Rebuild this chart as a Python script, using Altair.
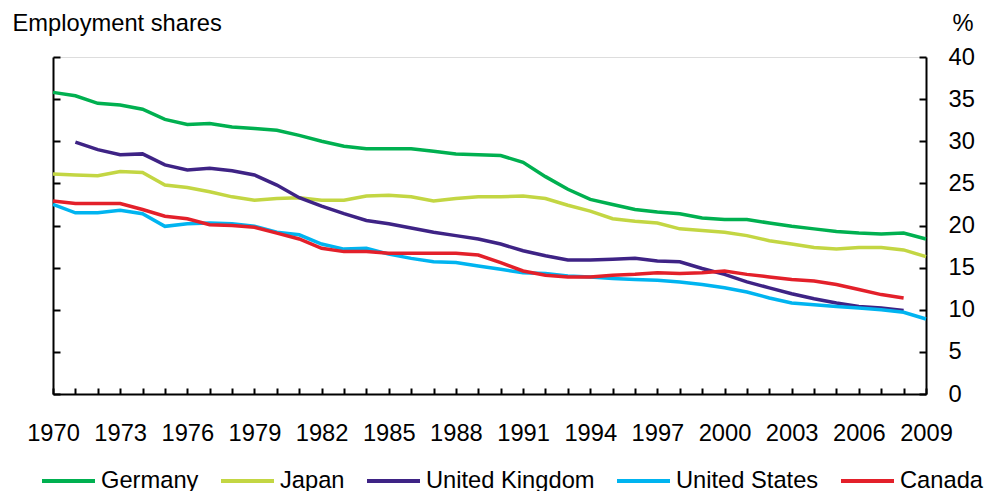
import altair as alt
import pandas as pd

years = list(range(1970, 2010))
label_years = list(range(1970, 2010, 3))
y_ticks = [0, 5, 10, 15, 20, 25, 30, 35, 40]

countries = ["Germany", "Japan", "United Kingdom", "United States", "Canada"]
colors = ["#00B050", "#C3D643", "#3E2385", "#00B4F0", "#E3202A"]

germany = [35.8, 35.4, 34.5, 34.3, 33.8, 32.6, 32.0, 32.1, 31.7, 31.5,
           31.3, 30.7, 30.0, 29.4, 29.1, 29.1, 29.1, 28.8, 28.5, 28.4,
           28.3, 27.5, 25.8, 24.3, 23.1, 22.5, 21.9, 21.6, 21.4, 20.9,
           20.7, 20.7, 20.3, 19.9, 19.6, 19.3, 19.1, 19.0, 19.1, 18.4]
japan = [26.1, 26.0, 25.9, 26.4, 26.3, 24.8, 24.5, 24.0, 23.4, 23.0,
         23.2, 23.3, 23.0, 23.0, 23.5, 23.6, 23.4, 22.9, 23.2, 23.4,
         23.4, 23.5, 23.2, 22.4, 21.7, 20.8, 20.5, 20.3, 19.6, 19.4,
         19.2, 18.8, 18.2, 17.8, 17.4, 17.2, 17.4, 17.4, 17.1, 16.3]
uk = [None, 29.9, 29.0, 28.4, 28.5, 27.2, 26.6, 26.8, 26.5, 26.0,
      24.8, 23.3, 22.3, 21.4, 20.6, 20.2, 19.7, 19.2, 18.8, 18.4,
      17.8, 17.0, 16.4, 15.9, 15.9, 16.0, 16.1, 15.8, 15.7, 14.9,
      14.2, 13.3, 12.6, 11.9, 11.3, 10.8, 10.4, 10.2, 9.9, None]
us = [22.5, 21.5, 21.5, 21.8, 21.4, 19.9, 20.2, 20.3, 20.2, 19.9,
      19.2, 18.9, 17.8, 17.2, 17.3, 16.6, 16.1, 15.7, 15.6, 15.2,
      14.8, 14.4, 14.3, 14.0, 13.9, 13.7, 13.6, 13.5, 13.3, 13.0,
      12.6, 12.1, 11.4, 10.8, 10.6, 10.4, 10.2, 10.0, 9.7, 8.9]
canada = [22.9, 22.6, 22.6, 22.6, 21.9, 21.1, 20.8, 20.1, 20.0, 19.8,
          19.1, 18.4, 17.3, 16.9, 16.9, 16.7, 16.7, 16.7, 16.7, 16.5,
          15.6, 14.6, 14.1, 13.9, 13.9, 14.1, 14.2, 14.4, 14.3, 14.4,
          14.6, 14.2, 13.9, 13.6, 13.4, 13.0, 12.4, 11.8, 11.4, None]

series = dict(zip(countries, [germany, japan, uk, us, canada]))
rows = []
for c in countries:
    for yr, v in zip(years, series[c]):
        if v is not None:
            rows.append({"year": yr, "value": v, "country": c})
df = pd.DataFrame(rows)

FONT = "Liberation Sans"
FS = 23.7
W, H = 873, 337

xscale = alt.Scale(domain=[1970, 2009], nice=False, zero=False)
yscale = alt.Scale(domain=[0, 40], nice=False, zero=True)

x_bottom = alt.Axis(orient="bottom", values=label_years, format="d", ticks=False, tickSize=0,
                    labelPadding=27, labelFontSize=FS, labelFont=FONT, labelColor="black",
                    labelFlush=False, labelOverlap=False, domain=True, domainColor="black",
                    domainWidth=2, grid=False, title=None)
x_top = alt.Axis(orient="top", offset=-H, values=years, ticks=True, tickSize=6, tickWidth=2,
                 tickColor="black", labels=False, domain=False, grid=False, title=None)

y_right = alt.Axis(orient="right", values=y_ticks, ticks=False, tickSize=0, labelAlign="left",
                   labelPadding=22, labelFontSize=FS, labelFont=FONT, labelColor="black",
                   labelBaseline="middle", labelFlush=False, domain=True, domainColor="black",
                   domainWidth=2, grid=False, title="%", titleAngle=0, titleX=26, titleY=-27,
                   titleAlign="left", titleBaseline="alphabetic", titleFontSize=FS,
                   titleFont=FONT, titleFontWeight="normal", titleColor="black")
y_lefttick = alt.Axis(orient="right", offset=-W, values=y_ticks, ticks=True, tickSize=7,
                      tickWidth=2, tickColor="black", labels=False, domain=True,
                      domainColor="black", domainWidth=2, grid=False,
                      title="Employment shares", titleAngle=0, titleX=-41, titleY=-27,
                      titleAlign="left", titleBaseline="alphabetic", titleFontSize=FS,
                      titleFont=FONT, titleFontWeight="normal", titleColor="black")
y_righttick = alt.Axis(orient="left", offset=-W, values=y_ticks, ticks=True, tickSize=7,
                       tickWidth=2, tickColor="black", labels=False, domain=False,
                       grid=False, title=None)

base = alt.Chart(df)

lines = base.mark_line(strokeWidth=3.5).encode(
    x=alt.X("year:Q", scale=xscale, axis=x_bottom),
    y=alt.Y("value:Q", scale=yscale, axis=y_right),
    color=alt.Color("country:N", scale=alt.Scale(domain=countries, range=colors),
                    sort=countries,
                    legend=alt.Legend(orient="none", legendX=-13, legendY=395,
                                      direction="horizontal", columns=5, title=None,
                                      symbolType="stroke", symbolSize=2809,
                                      symbolStrokeWidth=4, labelFontSize=FS,
                                      labelFont=FONT, labelColor="black",
                                      labelOffset=4, columnPadding=14, padding=0,
                                      labelLimit=400)),
)

ghost1 = base.mark_line(opacity=0).encode(
    x=alt.X("year:Q", scale=xscale, axis=x_top),
    y=alt.Y("value:Q", scale=yscale, axis=y_lefttick),
    detail="country:N",
)
ghost2 = base.mark_line(opacity=0).encode(
    x=alt.X("year:Q", scale=xscale, axis=None),
    y=alt.Y("value:Q", scale=yscale, axis=y_righttick),
    detail="country:N",
)

chart = alt.layer(ghost1, ghost2, lines).resolve_axis(x="independent", y="independent").properties(
    width=W, height=H,
    autosize=alt.AutoSizeParams(type="none"),
    padding={"left": 45, "top": 49, "right": 61, "bottom": 105},
).configure_view(stroke=None).configure(font=FONT)

chart.save("out.html", embed_options={"renderer": "svg", "actions": False})
